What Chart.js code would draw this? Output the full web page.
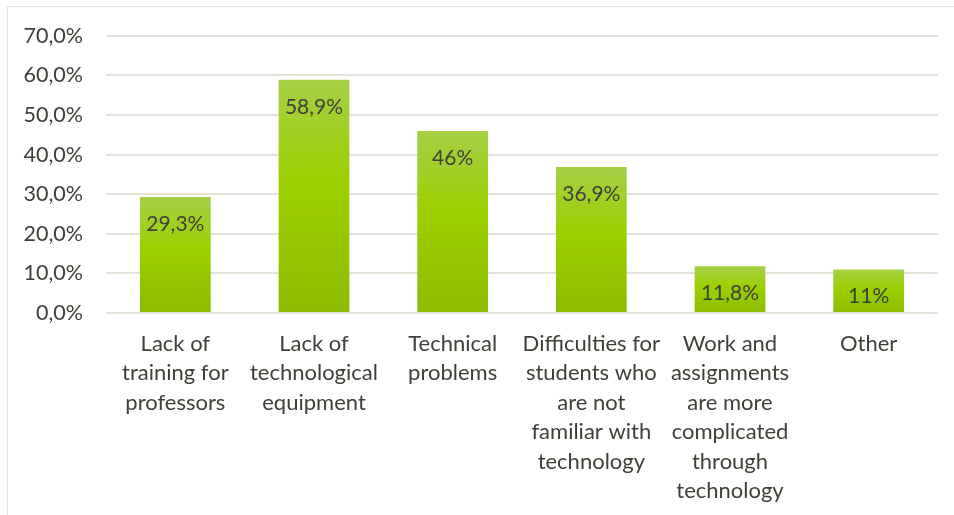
<!DOCTYPE html>
<html>
<head>
<meta charset="utf-8">
<script src="https://cdn.jsdelivr.net/npm/chart.js@4/dist/chart.umd.min.js"></script>
<style>
  html, body { margin: 0; padding: 0; background: #fff; }
  #wrap { position: relative; width: 954px; height: 515px; overflow: hidden; }
  #frame { position: absolute; left: 7px; top: 6px; width: 960px; height: 520px;
           border: 1px solid #e2e2d8; box-sizing: border-box; }
  #chart { position: absolute; left: 0; top: 0; }
</style>
</head>
<body>
<div id="wrap">
  <div id="frame"></div>
  <canvas id="chart" width="954" height="515"></canvas>
</div>
<script>
// categories, values and the labels printed on the bars
const categories = [
  ['Lack of', 'training for', 'professors'],
  ['Lack of', 'technological', 'equipment'],
  ['Technical', 'problems'],
  ['Difficulties for', 'students who', 'are not', 'familiar with', 'technology'],
  ['Work and', 'assignments', 'are more', 'complicated', 'through', 'technology'],
  ['Other']
];
const values = [29.3, 58.9, 46, 36.9, 11.8, 11];
const valueLabels = ['29,3%', '58,9%', '46%', '36,9%', '11,8%', '11%'];
const yTicks = [0, 10, 20, 30, 40, 50, 60, 70];

const textColor = '#404038';
const gridColor = '#e3e3da';
const fontFamily = 'Lato, "Open Sans", sans-serif';

// gradient per bar, lighter at the top
function barFill(ctx) {
  const chart = ctx.chart;
  const yScale = chart.scales.y;
  if (!chart.chartArea || !yScale) return '#9acd00';
  const top = yScale.getPixelForValue(values[ctx.dataIndex]);
  const bottom = yScale.getPixelForValue(0);
  if (!isFinite(top) || !isFinite(bottom) || bottom - top < 1) return '#9acd00';
  const g = chart.ctx.createLinearGradient(0, top, 0, bottom);
  g.addColorStop(0, '#a5d046');
  g.addColorStop(0.45, '#9bd000');
  g.addColorStop(1, '#8cbc00');
  return g;
}

// draw the value text just inside the top of each bar
const valueLabelPlugin = {
  id: 'valueLabels',
  afterDatasetsDraw(chart) {
    const c = chart.ctx;
    const meta = chart.getDatasetMeta(0);
    c.save();
    c.font = '21px ' + fontFamily;
    c.fillStyle = textColor;
    c.textAlign = 'center';
    c.textBaseline = 'middle';
    meta.data.forEach((bar, i) => {
      c.fillText(valueLabels[i], bar.x, bar.y + 27);
    });
    c.restore();
  }
};

new Chart(document.getElementById('chart'), {
  type: 'bar',
  data: {
    labels: categories,
    datasets: [{
      data: values,
      backgroundColor: barFill,
      borderWidth: 0,
      categoryPercentage: 1,
      barPercentage: 0.51
    }]
  },
  options: {
    responsive: false,
    animation: false,
    events: [],
    layout: { padding: { top: 35, right: 16, left: 0, bottom: 0 } },
    plugins: {
      legend: { display: false },
      tooltip: { enabled: false }
    },
    scales: {
      x: {
        grid: { display: false, drawTicks: false },
        border: { display: false },
        ticks: {
          color: textColor,
          font: { family: fontFamily, size: 22, lineHeight: 1.34 },
          padding: 16,
          maxRotation: 0,
          autoSkip: false
        },
        afterFit(scale) { scale.height = 202; }
      },
      y: {
        min: 0,
        max: 70,
        afterBuildTicks(scale) { scale.ticks = yTicks.map(v => ({ value: v })); },
        grid: { color: gridColor, lineWidth: 2, drawTicks: false },
        border: { display: false },
        ticks: {
          color: textColor,
          font: { family: fontFamily, size: 21.5 },
          padding: 23,
          callback: v => v.toFixed(1).replace('.', ',') + '%'
        },
        afterFit(scale) { scale.width = 106; }
      }
    }
  },
  plugins: [valueLabelPlugin]
});
</script>
</body>
</html>
